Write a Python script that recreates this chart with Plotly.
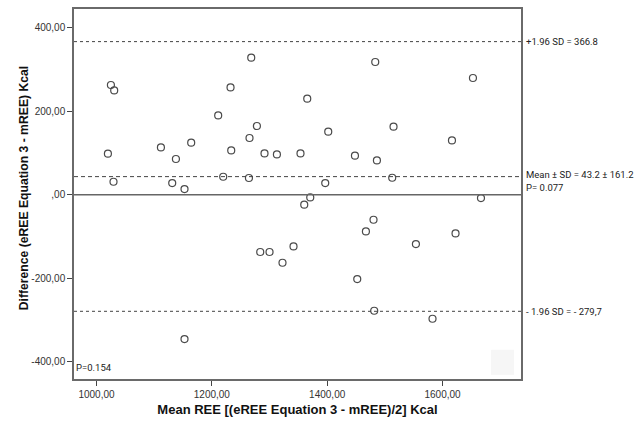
import plotly.graph_objects as go

# Data (Bland-Altman plot)
mean_ree = [1025.0, 1030.7, 1019.8, 1029.5, 1111.7, 1137.7, 1131.3, 1152.6, 1164.2, 1211.0,
            1219.7, 1232.4, 1233.6, 1265.3, 1264.3, 1268.3, 1278.1, 1291.3, 1312.8, 1353.7,
            1365.4, 1370.6, 1401.8, 1396.6, 1448.1, 1483.3, 1486.2, 1512.7, 1515.0, 1616.3,
            1652.7, 1666.6, 1360.2, 1283.9, 1300.0, 1322.5, 1341.6, 1152.6, 1480.3, 1467.1,
            1553.8, 1622.5, 1452.1, 1481.5, 1582.6]
difference = [262.8, 249.9, 98.1, 30.9, 113.2, 85.4, 27.8, 13.4, 124.5, 189.9,
              42.9, 257.1, 106.0, 135.7, 39.8, 328.3, 164.5, 98.8, 96.4, 98.8,
              230.0, -6.7, 150.8, 27.8, 93.3, 318.0, 82.0, 40.5, 162.8, 130.0,
              279.6, -8.2, -24.2, -137.6, -137.6, -163.3, -124.2, -346.3, -60.2, -88.2,
              -118.5, -93.0, -202.4, -278.4, -297.6]

upper_loa = 366.8
mean_diff = 43.2
lower_loa = -279.7

y_tickvals = [-400, -200, 0, 200, 400]
y_ticktext = ["-400,00", "-200,00", ",00", "200,00", "400,00"]
x_tickvals = [1000, 1200, 1400, 1600]
x_ticktext = ["1000,00", "1200,00", "1400,00", "1600,00"]

fig = go.Figure()
fig.add_trace(go.Scatter(
    x=mean_ree, y=difference, mode="markers",
    marker=dict(symbol="circle-open", size=7, color="#4a4a4a", line=dict(width=1.2)),
    showlegend=False, hoverinfo="skip"))

fig.add_shape(type="line", xref="paper", x0=0, x1=1, y0=upper_loa, y1=upper_loa,
              line=dict(color="#444444", width=1, dash="dot"))
fig.add_shape(type="line", xref="paper", x0=0, x1=1, y0=mean_diff, y1=mean_diff,
              line=dict(color="#444444", width=1, dash="4px,3px"))
fig.add_shape(type="line", xref="paper", x0=0, x1=1, y0=lower_loa, y1=lower_loa,
              line=dict(color="#444444", width=1, dash="dot"))
fig.add_shape(type="line", xref="paper", x0=0, x1=1, y0=0, y1=0,
              line=dict(color="#666666", width=1.5))
# faint square artifact
fig.add_shape(type="rect", x0=1684, x1=1724, y0=-432, y1=-372,
              line=dict(width=0), fillcolor="#f6f6f6", layer="below")

ann_font = dict(family="Liberation Sans Narrow, Roboto, Liberation Sans", size=9.5, color="#222222")
ann_x = 1.006
fig.add_annotation(xref="paper", x=ann_x, y=upper_loa, text="+1.96 SD = 366.8",
                   showarrow=False, xanchor="left", yanchor="middle", font=ann_font)
fig.add_annotation(xref="paper", x=ann_x, y=mean_diff + 4, text="Mean ± SD = 43.2 ± 161.2",
                   showarrow=False, xanchor="left", yanchor="middle", font=ann_font)
fig.add_annotation(xref="paper", x=ann_x, y=mean_diff - 27, text="P= 0.077",
                   showarrow=False, xanchor="left", yanchor="middle", font=ann_font)
fig.add_annotation(xref="paper", x=ann_x, y=lower_loa, text="- 1.96 SD = - 279,7",
                   showarrow=False, xanchor="left", yanchor="middle", font=ann_font)
fig.add_annotation(xref="paper", x=0.0, y=-415, text="P=0.154",
                   showarrow=False, xanchor="left", yanchor="middle", font=ann_font)

# y-axis title as rotated annotation (placed like the reference)
fig.add_annotation(xref="paper", yref="paper", x=-0.11, y=0.515,
                   text="<b>Difference (eREE Equation 3 - mREE) Kcal</b>", textangle=-90,
                   showarrow=False, xanchor="center", yanchor="middle",
                   font=dict(family="Liberation Sans, Arial", size=12.2, color="#111111"))

axis_common = dict(showgrid=False, zeroline=False, showline=True, linecolor="#6a6a6a",
                   linewidth=1.5, mirror=True, ticks="outside", ticklen=5,
                   tickcolor="#444444", tickwidth=1.2, automargin=False,
                   tickfont=dict(family="Liberation Sans, Arial", size=10, color="#333333"))

fig.update_layout(
    width=643, height=421,
    margin=dict(l=74, r=122, t=9, b=42),
    paper_bgcolor="white", plot_bgcolor="white",
    xaxis=dict(range=[961, 1736], tickvals=x_tickvals, ticktext=x_ticktext,
               title=dict(text="<b>Mean REE [(eREE Equation 3 - mREE)/2] Kcal</b>",
                          font=dict(family="Liberation Sans, Arial", size=13, color="#111111"),
                          standoff=6),
               **axis_common),
    yaxis=dict(range=[-442, 445], tickvals=y_tickvals, ticktext=y_ticktext,
               **axis_common),
)

fig.write_html("out.html", config={"displayModeBar": False},
               post_script="document.body.style.margin='0px';")
